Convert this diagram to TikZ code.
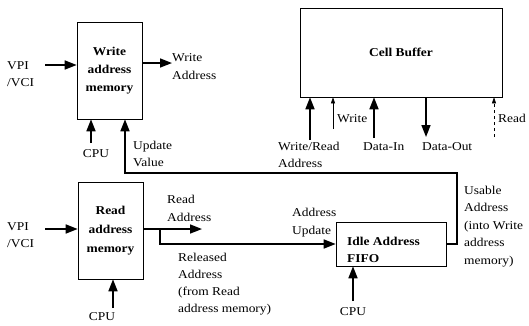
\documentclass[tikz,border=0pt]{standalone}
\usepackage{fontspec}
\setmainfont{Liberation Serif}[FakeStretch=1.12]
\usetikzlibrary{arrows.meta}
\begin{document}
\begin{tikzpicture}[x=1pt,y=-1pt,
  every node/.style={font=\fontsize{12}{17}\selectfont},
  box/.style={draw, line width=0.6pt, inner sep=0pt},
  boxtxt/.style={font=\fontsize{12}{18}\selectfont\bfseries, align=center},
  lbl/.style={anchor=north west, inner sep=0pt, align=left},
  word/.style={anchor=west, inner sep=0pt},
  arr/.style={line width=1.6pt, -{Triangle[length=12pt,width=9pt]}},
  thinarr/.style={line width=0.6pt, -{Triangle[length=6pt,width=4pt]}},
]
\useasboundingbox (0,0) rectangle (529,325);

% blocks
\node[box, boxtxt, minimum width=65pt, minimum height=97pt] (wam) at (109.5,70.5) {Write\\address\\memory};
\node[box, boxtxt, font=\fontsize{12}{19}\selectfont\bfseries, minimum width=65pt, minimum height=97pt] (ram) at (110.5,230.5) {Read\\address\\memory};
\node[box, minimum width=110pt, minimum height=44pt] (fifo) at (391,244) {};
\node[lbl, font=\fontsize{12}{17}\selectfont\bfseries] (fifotxt) at (347,233) {\strut Idle Address\\FIFO};
\node[box, boxtxt, minimum width=202pt, minimum height=89pt] (cb) at (401,52.5) {Cell Buffer};

% write address memory connections
\coordinate (vpiA) at (45,65);
\draw[arr] (vpiA) -- (vpiA -| wam.west);
\coordinate (waOut) at (172,63);
\draw[arr] (waOut -| wam.east) -- (waOut);
\coordinate (cpuA) at (91,143);
\draw[arr] (cpuA) -- (cpuA |- wam.south);

% usable address fed back from the FIFO
\coordinate (uvA) at (457,244);
\coordinate (uvB) at (457,173);
\coordinate (uvC) at (125,173);
\draw[arr] (fifo.east) -- (uvA) -- (uvB) -- (uvC) -- (uvC |- wam.south);

% read address memory connections
\coordinate (vpiB) at (45,229);
\draw[arr] (vpiB) -- (vpiB -| ram.west);
\coordinate (raOut) at (202,229);
\draw[arr] (raOut -| ram.east) -- (raOut);
\coordinate (brA) at (160,229);
\coordinate (brB) at (160,244);
\draw[arr] (brA) -- (brB) -- (fifo.west);
\coordinate (cpuB) at (113,308);
\draw[arr] (cpuB) -- (cpuB |- ram.south);
\coordinate (cpuC) at (353,301);
\draw[arr] (cpuC) -- (cpuC |- fifo.south);

% cell buffer signals
\coordinate (wr) at (310,140);
\draw[arr] (wr) -- (wr |- cb.south);
\coordinate (wt) at (333,129);
\draw[thinarr] (wt) -- (wt |- cb.south);
\coordinate (din) at (374,138);
\draw[arr] (din) -- (din |- cb.south);
\coordinate (dout) at (426,137);
\draw[arr] (dout |- cb.south) -- (dout);
\coordinate (rd) at (494,137);
\draw[thinarr, dashed] (rd) -- (rd |- cb.south);

% labels
\node[lbl] (vpi1) at (7,57) {\strut VPI\\/VCI};
\node[lbl] (vpi2) at (7,218) {\strut VPI\\/VCI};
\node[lbl, font=\fontsize{12}{18}\selectfont] (wal) at (172,49) {\strut Write\\Address};
\node[lbl] (uvl) at (133,137) {\strut Update\\Value};
\node[lbl, font=\fontsize{12}{18}\selectfont] (ral) at (167,191) {\strut Read\\Address};
\node[lbl] (rell) at (178,249) {\strut Released\\Address\\(from Read\\address memory)};
\node[lbl, font=\fontsize{12}{18}\selectfont] (aul) at (292,204) {\strut Address\\Update};
\node[lbl, font=\fontsize{12}{17.5}\selectfont] (usl) at (464,182) {\strut Usable\\Address\\(into Write\\address\\memory)};
\node[inner sep=0pt] (cpu1) at (96,154) {CPU};
\node[inner sep=0pt] (cpu2) at (102,317) {CPU};
\node[inner sep=0pt] (cpu3) at (353,312) {CPU};
\node[lbl] (wrl) at (278,138) {\strut Write/Read\\Address};
\node[word] (wtl) at (337,119) {Write};
\node[word] (dinl) at (363,147) {Data-In};
\node[word] (doutl) at (422,147) {Data-Out};
\node[word] (rdl) at (498,118) {Read};
\end{tikzpicture}
\end{document}
